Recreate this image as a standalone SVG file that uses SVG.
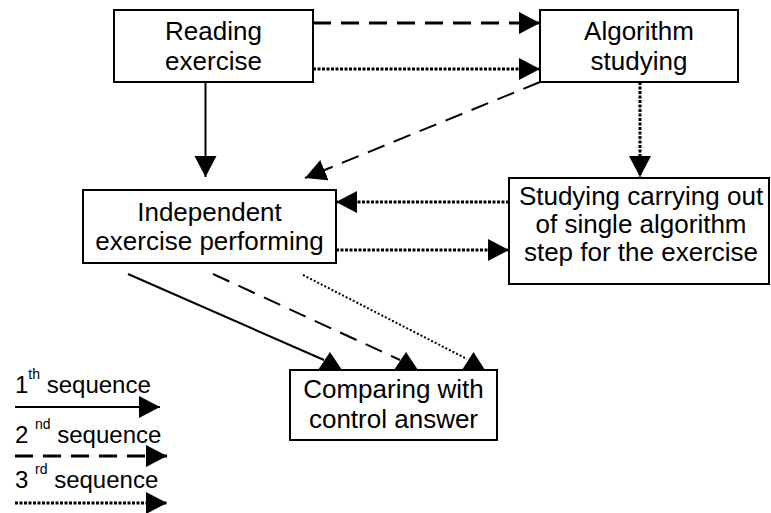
<svg xmlns="http://www.w3.org/2000/svg" width="771" height="513" viewBox="0 0 771 513">
<style>
.box{fill:#fff;stroke:#000;stroke-width:2}
.t{font-family:"Liberation Sans",Arial,sans-serif;font-size:26px;fill:#000;text-anchor:middle}
.lg{font-family:"Liberation Sans",Arial,sans-serif;font-size:24px;fill:#000}
.sup{font-size:14px}
.c{fill:none;stroke:#000}
.solid{stroke-width:2}
.dash{stroke-width:3;stroke-dasharray:18 10}
.dashthin{stroke-width:2;stroke-dasharray:18 10}
.dot{stroke-width:3;stroke-dasharray:3 1.5}
.dotthin{stroke-width:2;stroke-dasharray:2 2}
.head{fill:#000}
</style>
<defs>
<marker id="ah" markerUnits="userSpaceOnUse" markerWidth="22" markerHeight="24" refX="21" refY="11" orient="auto">
<path d="M0,0 L21,11 L0,22 z" fill="#000"/>
</marker>
</defs>
<rect width="771" height="513" fill="#fff"/>
<g id="connectors">
<line class="c dash" x1="313" y1="23" x2="540" y2="23" marker-end="url(#ah)"/>
<line class="c dot" x1="313" y1="69" x2="540" y2="69" marker-end="url(#ah)"/>
<line class="c solid" x1="205.5" y1="82" x2="205.5" y2="177" marker-end="url(#ah)"/>
<line class="c dashthin" x1="540" y1="82" x2="305" y2="178" marker-end="url(#ah)"/>
<line class="c dot" x1="640" y1="82" x2="640" y2="177" marker-end="url(#ah)"/>
<line class="c dot" x1="509" y1="202" x2="336" y2="202" marker-end="url(#ah)"/>
<line class="c dot" x1="336" y1="250" x2="509" y2="250" marker-end="url(#ah)"/>
<line class="c solid" x1="128" y1="274" x2="324" y2="360"/>
<line class="c dashthin" x1="213" y1="274" x2="400" y2="360"/>
<line class="c dotthin" x1="303" y1="275" x2="467" y2="359"/>
<polygon class="head" points="318,370 342,370 330,352"/>
<polygon class="head" points="394,370 418,370 406,352"/>
<polygon class="head" points="462,370 485,370 473.5,352"/>
</g>
<g id="reading">
<rect class="box" x="114" y="10" width="199" height="72"/>
<text class="t" x="213.5" y="40">Reading</text>
<text class="t" x="213.5" y="70">exercise</text>
</g>
<g id="algorithm">
<rect class="box" x="540" y="10" width="198" height="72"/>
<text class="t" x="639" y="40">Algorithm</text>
<text class="t" x="639" y="70">studying</text>
</g>
<g id="independent">
<rect class="box" x="83" y="190" width="253" height="73"/>
<text class="t" x="209.5" y="221">Independent</text>
<text class="t" x="209.5" y="250">exercise performing</text>
</g>
<g id="studying">
<rect class="box" x="509" y="178" width="260" height="106"/>
<text class="t" x="641" y="205">Studying carrying out</text>
<text class="t" x="641" y="233">of single algorithm</text>
<text class="t" x="641" y="261">step for the exercise</text>
</g>
<g id="comparing">
<rect class="box" x="290" y="370" width="207" height="70"/>
<text class="t" x="393.5" y="398">Comparing with</text>
<text class="t" x="393.5" y="428">control answer</text>
</g>
<g id="legend">
<text class="lg" x="15" y="393">1<tspan class="sup" dy="-14">th</tspan><tspan dy="14"> sequence</tspan></text>
<line class="c solid" x1="15" y1="407" x2="160" y2="407" marker-end="url(#ah)"/>
<text class="lg" x="15" y="443">2 <tspan class="sup" dy="-14">nd</tspan><tspan dy="14"> sequence</tspan></text>
<line class="c dash" x1="15" y1="456" x2="167" y2="456" marker-end="url(#ah)"/>
<text class="lg" x="15" y="488">3 <tspan class="sup" dy="-14">rd</tspan><tspan dy="14"> sequence</tspan></text>
<line class="c dot" x1="15" y1="503" x2="167" y2="503" marker-end="url(#ah)"/>
</g>
</svg>
